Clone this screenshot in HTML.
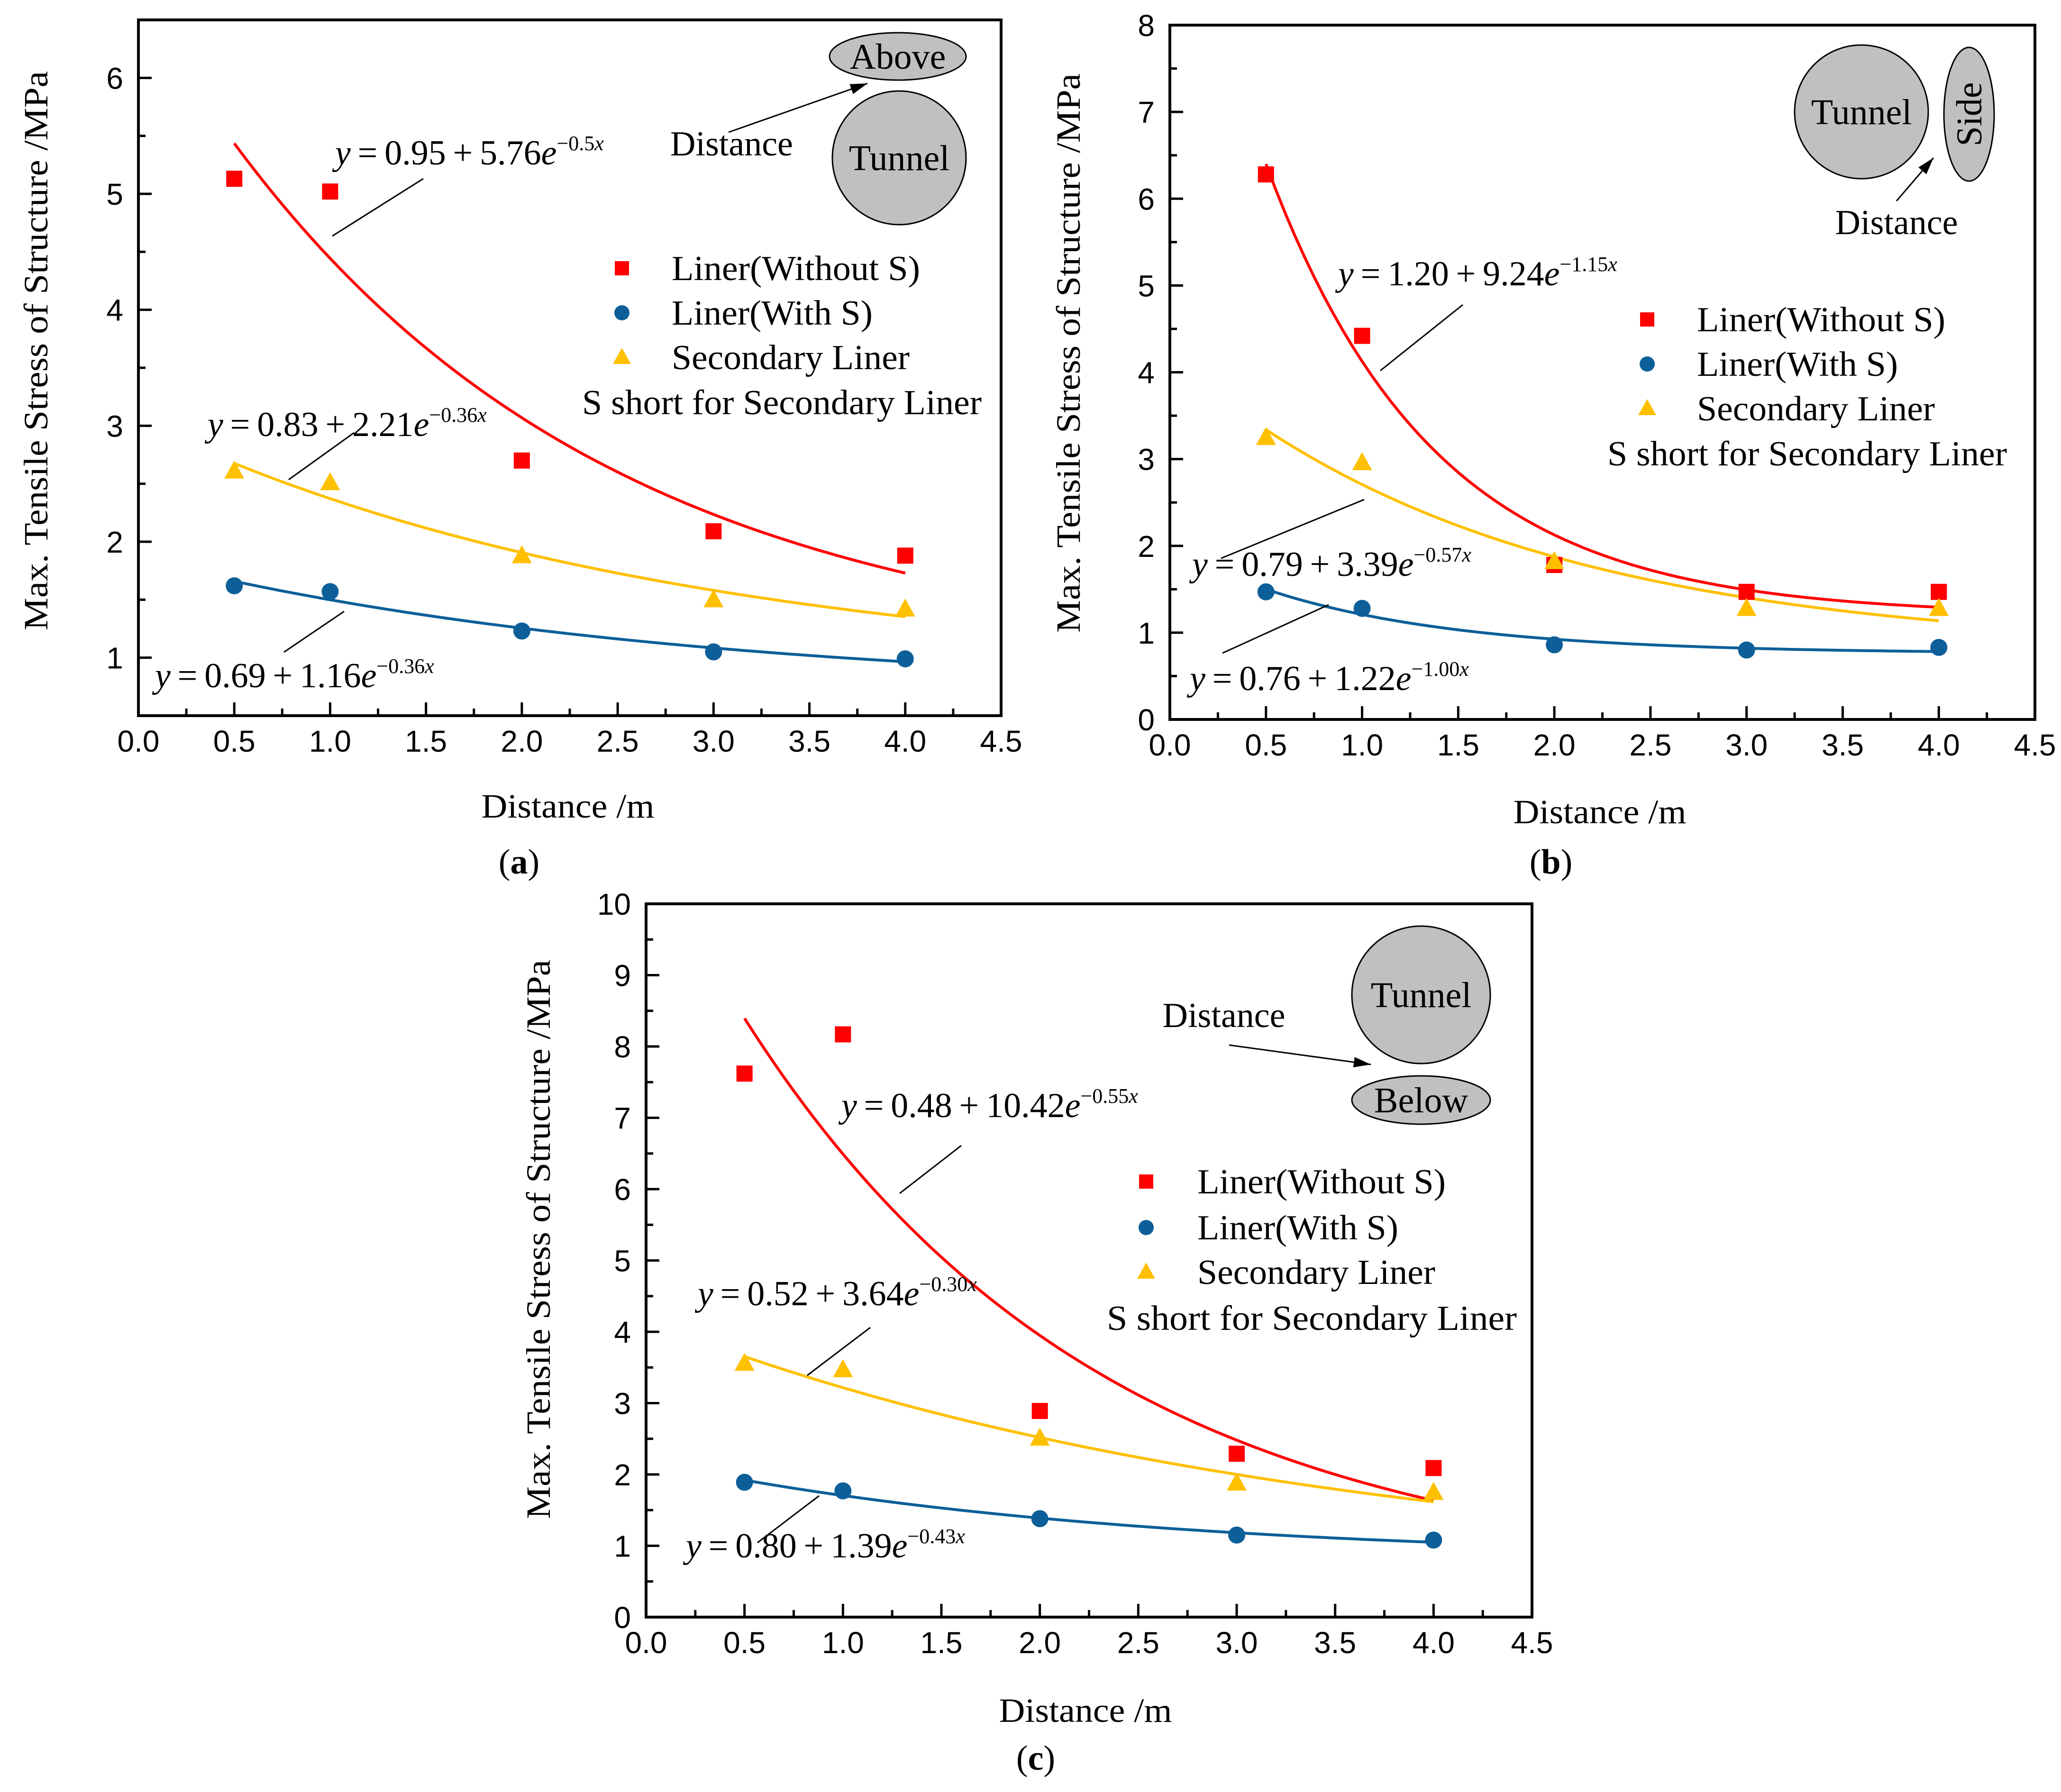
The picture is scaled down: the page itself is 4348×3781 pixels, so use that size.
<!DOCTYPE html>
<html><head><meta charset="utf-8"><style>
html,body{margin:0;padding:0;background:#fff;}
svg{display:block;}
</style></head><body>
<svg id="fig" xmlns="http://www.w3.org/2000/svg" width="4348" height="3781" viewBox="0 0 4348 3781">
<rect x="0" y="0" width="4348" height="3781" fill="#fff"/>
</svg>
<script>
// ---- data ----
const categories = [0.5, 1, 2, 3, 4];
const aWithout = [5.13, 5.02, 2.70, 2.09, 1.88];
const aWith = [1.62, 1.57, 1.23, 1.05, 0.99];
const aSecondary = [2.61, 2.51, 1.88, 1.50, 1.42];
const aFitWithout = [0.95, 5.76, -0.5];
const aFitWith = [0.69, 1.16, -0.36];
const aFitSecondary = [0.83, 2.21, -0.36];
const bWithout = [6.28, 4.42, 1.78, 1.47, 1.47];
const bWith = [1.47, 1.28, 0.86, 0.80, 0.83];
const bSecondary = [3.25, 2.96, 1.82, 1.28, 1.28];
const bFitWithout = [1.20, 9.24, -1.15];
const bFitWith = [0.76, 1.22, -1.00];
const bFitSecondary = [0.79, 3.39, -0.57];
const cWithout = [7.62, 8.17, 2.89, 2.29, 2.09];
const cWith = [1.89, 1.77, 1.38, 1.15, 1.08];
const cSecondary = [3.56, 3.47, 2.51, 1.88, 1.75];
const cFitWithout = [0.48, 10.42, -0.55];
const cFitWith = [0.80, 1.39, -0.43];
const cFitSecondary = [0.52, 3.64, -0.30];
const xTickLabels = ["0.0","0.5","1.0","1.5","2.0","2.5","3.0","3.5","4.0","4.5"];
const aYTickLabels = ["1","2","3","4","5","6"];
const bYTickLabels = ["0","1","2","3","4","5","6","7","8"];
const cYTickLabels = ["0","1","2","3","4","5","6","7","8","9","10"];

const RED="#ff0000", BLUE="#0d5f99", YEL="#ffc000";
const NS="http://www.w3.org/2000/svg";
const svg=document.getElementById('fig');
function mk(tag,attrs,parent){const e=document.createElementNS(NS,tag);for(const k in attrs)e.setAttribute(k,attrs[k]);(parent||svg).appendChild(e);return e;}
const SERIF='"Liberation Serif", serif', SANS='"Liberation Sans", sans-serif';

function eq(g,x,y,a,b,c,name){
  const t=mk('text',{x:x,y:y,'font-family':SERIF,'font-size':74},g);
  
  
  const s1=mk('tspan',{'font-style':'italic'},t);s1.textContent='y';
  const s2=mk('tspan',{},t);s2.textContent='\u2009=\u20090.'.replace('0.','')+a.toFixed(2)+'\u2009+\u2009'+b.toFixed(2);
  const s3=mk('tspan',{'font-style':'italic'},t);s3.textContent='e';
  const s4=mk('tspan',{'font-size':44,dy:-30},t);s4.textContent='\u2212'+Math.abs(c).toFixed(name.indexOf('a-')===0&&Math.abs(c)===0.5?1:2);
  const s5=mk('tspan',{'font-size':44,'font-style':'italic'},t);s5.textContent='x';
}

function panel(P){
  const g=mk('g',{});
  
  
  const X=v=>P.L+(v-0)/(4.5-0)*(P.R-P.L);
  const Y=v=>P.B-(v-P.ymin)/(P.ymax-P.ymin)*(P.B-P.T);
  for(let i=0;i<=18;i++){const v=i*0.25;const maj=i%2===0;
    const tk=mk('line',{x1:X(v),x2:X(v),y1:P.B,y2:P.B-(maj?28:15),stroke:'#000','stroke-width':5},g);
    
    }
  xTickLabels.forEach((s,i)=>{const tl=mk('text',{x:X(i*0.5),y:P.B+76,'text-anchor':'middle','font-family':SANS,'font-size':64},g);tl.textContent=s;
    
    });
  for(let v=P.ymin;v<=P.ymax+1e-9;v+=0.5){const maj=Math.abs(v-Math.round(v))<1e-9;
    const tk=mk('line',{x1:P.L,x2:P.L+(maj?28:15),y1:Y(v),y2:Y(v),stroke:'#000','stroke-width':5},g);
    
    }
  P.ylabels.forEach(s=>{const v=parseFloat(s);const tl=mk('text',{x:P.L-32,y:Y(v)+23,'text-anchor':'end','font-family':SANS,'font-size':64},g);tl.textContent=s;
    
    });
  const fr=mk('rect',{x:P.L,y:P.T,width:P.R-P.L,height:P.B-P.T,fill:'none',stroke:'#000','stroke-width':6},g);
  
  
  const yt=mk('text',{x:0,y:0,transform:`translate(${P.ytx},${P.ytc}) rotate(-90)`,'text-anchor':'middle','font-family':SERIF,'font-size':72,textLength:1180,lengthAdjust:'spacingAndGlyphs'},g);
  yt.textContent='Max. Tensile Stress of Structure /MPa';
  
  
  const xt=mk('text',{x:P.xtx,y:P.xty,'text-anchor':'middle','font-family':SERIF,'font-size':72,textLength:365,lengthAdjust:'spacingAndGlyphs'},g);
  xt.textContent='Distance /m';
  
  
  const cap=mk('text',{x:P.capx,y:P.capy,'text-anchor':'middle','font-family':SERIF,'font-size':74},g);
  const c1=mk('tspan',{},cap);c1.textContent='(';
  const c2=mk('tspan',{'font-weight':'bold'},cap);c2.textContent=P.id;
  const c3=mk('tspan',{},cap);c3.textContent=')';
  
  
  [[P.fw,RED,'fit-curve-without-s'],[P.fs,YEL,'fit-curve-secondary'],[P.fi,BLUE,'fit-curve-with-s']].forEach(([f,col,nm])=>{
    let d='';for(let i=0;i<=70;i++){const x=0.5+i*3.5/70;const y=f[0]+f[1]*Math.exp(f[2]*x);d+=(i?'L':'M')+X(x).toFixed(1)+','+Y(y).toFixed(1);}
    const p=mk('path',{d:d,fill:'none',stroke:col,'stroke-width':6},g);
    
    });
  categories.forEach((c,i)=>{
    const s=mk('rect',{x:X(c)-17,y:Y(P.w[i])-17,width:34,height:34,fill:RED},g);
    
    
    const ci=mk('circle',{cx:X(c),cy:Y(P.i[i]),r:18,fill:BLUE},g);
    
    
    const cx=X(c),cy=Y(P.s[i]);
    const tr=mk('polygon',{points:`${cx},${cy-22} ${cx+21},${cy+16} ${cx-21},${cy+16}`,fill:YEL},g);
    
    });
  eq(g,P.e1[0],P.e1[1],P.fw[0],P.fw[1],P.fw[2],P.id+'-eq-without-s');
  eq(g,P.e2[0],P.e2[1],P.fs[0],P.fs[1],P.fs[2],P.id+'-eq-secondary');
  eq(g,P.e3[0],P.e3[1],P.fi[0],P.fi[1],P.fi[2],P.id+'-eq-with-s');
  P.lines.forEach(l=>{const ln=mk('line',{x1:l[0],y1:l[1],x2:l[2],y2:l[3],stroke:'#000','stroke-width':3},g);
    
    });
  const lg=mk('g',{},g);
  
  
  const mx=P.leg[0],tx=P.leg[1],rows=P.leg[2];
  const r0=mk('rect',{x:mx-15,y:rows[0]-15,width:30,height:30,fill:RED},lg);
  
  
  const r1=mk('circle',{cx:mx,cy:rows[1],r:16,fill:BLUE},lg);
  
  
  const r2=mk('polygon',{points:`${mx},${rows[2]-20} ${mx+19},${rows[2]+14} ${mx-19},${rows[2]+14}`,fill:YEL},lg);
  
  
  [['Liner(Without S)',524],['Liner(With S)',424],['Secondary Liner',502]].forEach((t,k)=>{
    const te=mk('text',{x:tx,y:rows[k]+25,'font-family':SERIF,'font-size':74,textLength:t[1],lengthAdjust:'spacingAndGlyphs'},lg);te.textContent=t[0];
    
    });
  const note=mk('text',{x:P.note[0],y:P.note[1]+25,'font-family':SERIF,'font-size':74,textLength:P.note[2],lengthAdjust:'spacingAndGlyphs'},lg);
  note.textContent='S short for Secondary Liner';
  
  
  return g;
}
function shape(g,cx,cy,rx,ry,label,name,rot){
  const e=mk('ellipse',{cx:cx,cy:cy,rx:rx,ry:ry,fill:'#c0c0c0',stroke:'#000','stroke-width':3},g);
  
  
  const t=mk('text',{x:0,y:0,transform:rot?`translate(${cx+26},${cy}) rotate(-90)`:`translate(${cx},${cy+26})`,'text-anchor':'middle','font-family':SERIF,'font-size':76},g);
  t.textContent=label;
  
  
}
function arrowText(g,x1,y1,x2,y2,tx,ty,anchor){
  const a=mk('line',{x1:x1,y1:y1,x2:x2,y2:y2,stroke:'#000','stroke-width':3},g);
  
  
  const ang=Math.atan2(y2-y1,x2-x1),L=36,W=11;
  const bx=x2-L*Math.cos(ang),by=y2-L*Math.sin(ang);
  const hd=mk('polygon',{points:`${x2},${y2} ${bx+W*Math.sin(ang)},${by-W*Math.cos(ang)} ${bx-W*Math.sin(ang)},${by+W*Math.cos(ang)}`,fill:'#000'},g);
  
  
  const t=mk('text',{x:tx,y:ty,'text-anchor':anchor,'font-family':SERIF,'font-size':74},g);
  t.textContent='Distance';
  
  
}

const ga=panel({id:'a',L:292,R:2112,T:42,B:1510,ymin:0.5,ymax:6.5,ylabels:aYTickLabels,
  w:aWithout,i:aWith,s:aSecondary,fw:aFitWithout,fi:aFitWith,fs:aFitSecondary,
  ytx:100,ytc:740,xtx:1198,xty:1725,capx:1095,capy:1843,
  e1:[707,347],e2:[438,920],e3:[327,1450],
  lines:[[701,498,893,377],[609,1012,747,913],[599,1376,726,1290]],
  leg:[1312,1417,[566,660,754]],note:[1228,849,843]});
shape(ga,1894,119,144,50,'Above','above-ellipse');
shape(ga,1897,333,141,141,'Tunnel','tunnel-circle');
arrowText(ga,1537,279,1830,176,1414,328,'start');

const gb=panel({id:'b',L:2468,R:4293,T:53,B:1518,ymin:0,ymax:8,ylabels:bYTickLabels,
  w:bWithout,i:bWith,s:bSecondary,fw:bFitWithout,fi:bFitWith,fs:bFitSecondary,
  ytx:2278,ytc:745,xtx:3375,xty:1737,capx:3272,capy:1843,
  e1:[2823,602],e2:[2515,1215],e3:[2510,1456],
  lines:[[2912,782,3086,643],[2576,1178,2878,1054],[2579,1378,2803,1276]],
  leg:[3475,3580,[674,768,862]],note:[3391,957,843]});
shape(gb,3927,236,141,141,'Tunnel','tunnel-circle');
shape(gb,4154,241,53,141,'Side','side-ellipse',true);
arrowText(gb,4001,424,4079,333,4001,494,'middle');

const gc=panel({id:'c',L:1363,R:3232,T:1907,B:3412,ymin:0,ymax:10,ylabels:cYTickLabels,
  w:cWithout,i:cWith,s:cSecondary,fw:cFitWithout,fi:cFitWith,fs:cFitSecondary,
  ytx:1160,ytc:2615,xtx:2290,xty:3633,capx:2185,capy:3734,
  e1:[1775,2357],e2:[1472,2754],e3:[1447,3286],
  lines:[[1898,2518,2028,2417],[1703,2902,1836,2801],[1598,3255,1728,3156]],
  leg:[2418,2526,[2493,2590,2684]],note:[2335,2781,865]});
shape(gc,2998,2099,146,145,'Tunnel','tunnel-circle');
shape(gc,2998,2321,146,51,'Below','below-ellipse');
arrowText(gc,2593,2205,2892,2246,2582,2167,'middle');
</script>
</body></html>
